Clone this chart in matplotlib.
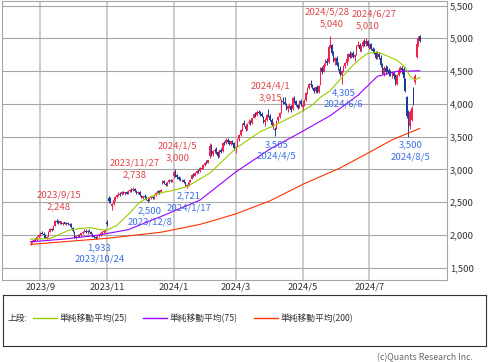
import numpy as np
import pandas as pd
import matplotlib
matplotlib.use("Agg")
import matplotlib.pyplot as plt

plt.rcParams['font.family'] = ['Noto Sans CJK JP', 'DejaVu Sans']

# trading calendar (TSE), weekdays minus market holidays
holidays = ['2023-09-18', '2023-10-09', '2023-11-03', '2023-11-23',
            '2024-01-01', '2024-01-02', '2024-01-03', '2024-01-08',
            '2024-02-12', '2024-02-23', '2024-03-20', '2024-04-29',
            '2024-05-03', '2024-05-06', '2024-07-15', '2024-08-12']
days = pd.bdate_range('2023-08-24', '2024-08-15')
days = days[~days.isin(pd.to_datetime(holidays))]

# daily prices (Aug 2023 .. Aug 2024)
opens = [1870, 1885, 1905, 1925, 1915, 1970,
         2000, 2035, 2020, 2000, 1960, 1980, 2050, 2090, 2075, 2140, 2210, 2195, 2180, 2200, 2170, 2190, 2165, 2185, 2155, 2170,
         2110, 2050, 1960, 1985, 2000, 2000, 2030, 2050, 2065, 2040, 2060, 2050, 2015, 1985, 1965, 1955, 1985, 1995, 2030, 2050, 2065,
         2200, 2560, 2540, 2440, 2470, 2530, 2580, 2610, 2630, 2620, 2655, 2635, 2650, 2630, 2670, 2690, 2680, 2700, 2670, 2645,
         2660, 2600, 2570, 2590, 2575, 2540, 2525, 2560, 2580, 2560, 2610, 2640, 2665, 2650, 2780, 2830, 2780, 2760, 2800, 2840, 2820,
         2900, 2970, 2910, 2880, 2860, 2835, 2845, 2800, 2750, 2760, 2810, 2860, 2920, 2905, 2950, 2980, 2970, 3020, 3010,
         3070, 3100, 3100, 3200, 3350, 3230, 3280, 3300, 3260, 3200, 3290, 3280, 3400, 3400, 3450, 3420, 3390, 3430, 3400,
         3320, 3350, 3460, 3530, 3600, 3700, 3660, 3610, 3700, 3730, 3700, 3790, 3840, 3830, 3880, 3860, 3840, 3800, 3720, 3760,
         3840, 3820, 3750, 3690, 3620, 3620, 3750, 3800, 3870, 4050, 4030, 3990, 3920, 3960, 3960, 3920, 4090, 4040, 3980, 3940, 4040,
         3950, 3980, 4060, 4170, 4240, 4300, 4280, 4240, 4190, 4250, 4180, 4300, 4540, 4490, 4600, 4660, 4640, 4870, 4900, 4770, 4660,
         4700, 4600, 4530, 4440, 4500, 4580, 4620, 4680, 4760, 4720, 4770, 4720, 4760, 4880, 4900, 4830, 4880, 4950, 4920, 4960,
         4890, 4910, 4840, 4800, 4780, 4700, 4760, 4700, 4600, 4460, 4550, 4560, 4520, 4480, 4470, 4470, 4440, 4300, 4440, 4500, 4540, 4530,
         4380, 4100, 3560, 3660, 3760, 4200, 4340, 4720, 4920, 5040]
highs = [1900, 1915, 1930, 1950, 1980, 2010,
         2045, 2060, 2040, 2010, 1990, 2060, 2100, 2110, 2140, 2220, 2248, 2220, 2215, 2210, 2195, 2200, 2190, 2195, 2180, 2175,
         2120, 2060, 1990, 2010, 2020, 2035, 2060, 2085, 2090, 2070, 2090, 2065, 2025, 2000, 1980, 1990, 2010, 2035, 2060, 2075, 2090,
         2230, 2600, 2580, 2480, 2540, 2590, 2625, 2650, 2660, 2670, 2670, 2660, 2665, 2680, 2700, 2710, 2738, 2715, 2690, 2670,
         2670, 2615, 2600, 2620, 2590, 2560, 2570, 2590, 2600, 2620, 2650, 2680, 2680, 2700, 2840, 2840, 2800, 2810, 2850, 2860, 2850,
         2980, 3000, 2930, 2900, 2880, 2860, 2860, 2810, 2770, 2810, 2850, 2930, 2940, 2960, 2990, 3000, 3030, 3050, 3080,
         3110, 3140, 3150, 3400, 3380, 3290, 3330, 3340, 3280, 3300, 3320, 3420, 3440, 3480, 3485, 3450, 3440, 3450, 3420,
         3360, 3470, 3540, 3620, 3700, 3750, 3680, 3700, 3770, 3760, 3790, 3860, 3870, 3900, 3905, 3890, 3880, 3820, 3780, 3850,
         3915, 3850, 3780, 3720, 3640, 3760, 3820, 3880, 4080, 4110, 4100, 4010, 3980, 4020, 3980, 4110, 4120, 4060, 4000, 4060, 4080,
         4000, 4070, 4180, 4260, 4320, 4370, 4300, 4260, 4260, 4280, 4290, 4560, 4580, 4620, 4680, 4700, 4880, 5040, 4920, 4800, 4720,
         4730, 4640, 4570, 4520, 4600, 4640, 4700, 4780, 4800, 4790, 4800, 4760, 4900, 4960, 4930, 4900, 4970, 4990, 5010, 4980,
         4930, 4930, 4870, 4850, 4800, 4800, 4790, 4740, 4620, 4570, 4590, 4580, 4540, 4510, 4500, 4480, 4450, 4460, 4560, 4580, 4570, 4560,
         4400, 4120, 3900, 3900, 3960, 4250, 4460, 4960, 5030, 5050]
lows = [1850, 1870, 1890, 1905, 1910, 1955,
        1990, 2010, 1990, 1950, 1940, 1975, 2040, 2060, 2070, 2135, 2180, 2170, 2165, 2160, 2150, 2160, 2145, 2150, 2130, 2110,
        2050, 1960, 1945, 1970, 1975, 1990, 2015, 2040, 2030, 2020, 2045, 2010, 1975, 1955, 1945, 1933, 1975, 1985, 2020, 2035, 2050,
        2140, 2480, 2480, 2380, 2460, 2520, 2560, 2590, 2600, 2610, 2620, 2610, 2620, 2625, 2650, 2660, 2670, 2660, 2630, 2630,
        2600, 2560, 2550, 2570, 2530, 2500, 2515, 2545, 2550, 2555, 2600, 2630, 2630, 2640, 2770, 2770, 2740, 2750, 2790, 2800, 2800,
        2870, 2890, 2860, 2840, 2820, 2800, 2790, 2740, 2721, 2750, 2800, 2850, 2890, 2900, 2935, 2950, 2960, 3000, 3005,
        3050, 3080, 3090, 3180, 3200, 3200, 3250, 3240, 3180, 3190, 3250, 3270, 3370, 3380, 3400, 3370, 3370, 3380, 3300,
        3245, 3340, 3440, 3510, 3590, 3660, 3590, 3600, 3690, 3680, 3690, 3780, 3800, 3820, 3840, 3820, 3800, 3700, 3660, 3740,
        3800, 3740, 3660, 3620, 3505, 3610, 3720, 3780, 3860, 3990, 3980, 3900, 3880, 3940, 3880, 3910, 4020, 3960, 3920, 3930, 3970,
        3890, 3960, 4050, 4150, 4220, 4260, 4220, 4170, 4170, 4160, 4170, 4290, 4460, 4480, 4570, 4600, 4630, 4850, 4750, 4640, 4600,
        4580, 4510, 4420, 4305, 4480, 4540, 4600, 4660, 4700, 4700, 4700, 4660, 4750, 4860, 4810, 4790, 4860, 4880, 4890, 4870,
        4840, 4820, 4780, 4760, 4680, 4690, 4680, 4560, 4450, 4420, 4460, 4480, 4430, 4420, 4400, 4380, 4280, 4280, 4420, 4470, 4460, 4380,
        4180, 3780, 3500, 3620, 3740, 3980, 4300, 4700, 4880, 4950]
closes = [1880, 1905, 1920, 1915, 1965, 2000,
          2030, 2020, 2005, 1960, 1975, 2050, 2090, 2070, 2130, 2205, 2195, 2180, 2205, 2170, 2185, 2165, 2180, 2160, 2170, 2120,
          2060, 1975, 1980, 2000, 1990, 2025, 2045, 2060, 2040, 2055, 2050, 2020, 1985, 1965, 1960, 1980, 2000, 2030, 2045, 2065, 2080,
          2160, 2510, 2500, 2470, 2530, 2580, 2610, 2630, 2615, 2655, 2635, 2650, 2630, 2670, 2690, 2675, 2700, 2670, 2645, 2660,
          2610, 2570, 2590, 2580, 2545, 2520, 2560, 2580, 2560, 2610, 2640, 2665, 2645, 2690, 2830, 2790, 2760, 2800, 2840, 2820, 2835,
          2960, 2910, 2880, 2860, 2835, 2845, 2800, 2750, 2760, 2800, 2840, 2920, 2905, 2950, 2980, 2965, 3020, 3010, 3070,
          3100, 3095, 3140, 3350, 3230, 3280, 3300, 3260, 3200, 3290, 3270, 3400, 3390, 3450, 3420, 3390, 3430, 3400, 3320,
          3340, 3460, 3530, 3600, 3690, 3680, 3610, 3690, 3720, 3700, 3780, 3840, 3820, 3880, 3860, 3840, 3810, 3720, 3760, 3830,
          3820, 3760, 3680, 3700, 3600, 3740, 3800, 3860, 4050, 4030, 4000, 3920, 3960, 3980, 3900, 4090, 4040, 3980, 3940, 4040, 3990,
          3980, 4050, 4170, 4240, 4300, 4280, 4240, 4190, 4250, 4180, 4270, 4540, 4490, 4600, 4660, 4620, 4860, 4900, 4770, 4660, 4700,
          4600, 4530, 4450, 4500, 4580, 4620, 4680, 4760, 4720, 4770, 4720, 4740, 4880, 4900, 4830, 4880, 4950, 4900, 4960, 4890,
          4910, 4840, 4800, 4780, 4700, 4780, 4720, 4600, 4480, 4550, 4480, 4500, 4450, 4440, 4480, 4420, 4300, 4440, 4520, 4550, 4520, 4400,
          4200, 3820, 3540, 3870, 3940, 4020, 4420, 4920, 5000, 4960]

# moving averages
ma25_dates = ['2023-08-24', '2023-09-11', '2023-09-28', '2023-10-11', '2023-10-18', '2023-10-26',
              '2023-11-01', '2023-11-10', '2023-11-22', '2023-12-01', '2023-12-11', '2023-12-20',
              '2023-12-28', '2024-01-17', '2024-02-06', '2024-03-01', '2024-03-25', '2024-04-04',
              '2024-04-26', '2024-05-13', '2024-05-20', '2024-05-28', '2024-06-06', '2024-06-17',
              '2024-06-24', '2024-06-28', '2024-07-08', '2024-07-17', '2024-07-25', '2024-08-01',
              '2024-08-06', '2024-08-09', '2024-08-15']
ma25_vals = [1935, 1945, 2075, 2100, 2110, 2080, 2075, 2145, 2335, 2500, 2575, 2645,
             2670, 2735, 2940, 3320, 3575, 3660, 3860, 3980, 4100, 4200, 4400, 4590,
             4700, 4770, 4790, 4730, 4665, 4560, 4420, 4365, 4405]
ma75_dates = ['2023-08-24', '2023-09-22', '2023-10-24', '2023-11-21', '2023-12-20', '2024-01-29',
              '2024-03-01', '2024-04-02', '2024-05-01', '2024-05-28', '2024-06-20', '2024-07-08',
              '2024-07-25', '2024-08-06', '2024-08-15']
ma75_vals = [1895, 1935, 1995, 2080, 2280, 2530, 2960, 3310, 3580, 3820, 4130, 4420, 4495, 4500, 4505]
ma200_dates = ['2023-08-24', '2023-09-22', '2023-11-01', '2023-12-20', '2024-01-29', '2024-03-01',
               '2024-04-02', '2024-05-01', '2024-06-05', '2024-07-01', '2024-07-22', '2024-08-15']
ma200_vals = [1855, 1895, 1948, 2040, 2160, 2320, 2520, 2770, 3020, 3260, 3450, 3625]

# marked highs / lows
peak_dates = ['2023-09-15', '2023-11-27', '2024-01-05', '2024-04-01', '2024-05-28', '2024-06-27']
peak_vals = [2248, 2738, 3000, 3915, 5040, 5010]
trough_dates = ['2023-10-24', '2023-12-08', '2024-01-17', '2024-04-05', '2024-06-06', '2024-08-05']
trough_vals = [1933, 2500, 2721, 3505, 4305, 3500]

month_ticks = ['2023-09-01', '2023-11-01', '2024-01-04', '2024-03-01', '2024-05-01', '2024-07-01']
month_labels = ['2023/9', '2023/11', '2024/1', '2024/3', '2024/5', '2024/7']
y_ticks = [1500, 2000, 2500, 3000, 3500, 4000, 4500, 5000, 5500]


def pos(d):
    return days.get_loc(pd.Timestamp(d))


def jp_date(d):
    t = pd.Timestamp(d)
    return f"{t.year}/{t.month}/{t.day}"


UP = '#f2204c'
DOWN = '#1d3c96'
C25, C75, C200 = '#99cc00', '#9900ff', '#ff3300'
RED_TXT, BLUE_TXT = '#e0474c', '#3f6fe6'

fig = plt.figure(figsize=(4.89, 3.62), dpi=100)
ax = fig.add_axes([2 / 489, 1 - 280 / 362, 445 / 489, 279 / 362])

x = np.arange(len(days))
o = np.array(opens)
h = np.array(highs)
l = np.array(lows)
c = np.array(closes)
cols = np.where(c >= o, UP, DOWN)

ax.vlines(x, l, h, colors=cols, lw=0.7, zorder=3)
ax.bar(x, np.maximum(np.abs(c - o), 10), bottom=np.minimum(o, c), width=0.9,
       color=cols, linewidth=0, zorder=3)

ax.plot([pos(d) for d in ma200_dates], ma200_vals, color=C200, lw=0.8, zorder=4)
ax.plot([pos(d) for d in ma75_dates], ma75_vals, color=C75, lw=0.8, zorder=4)
ax.plot([pos(d) for d in ma25_dates], ma25_vals, color=C25, lw=0.8, zorder=4)

# high / low labels: date over price for highs, price over date for lows
# the two labels at the top sit close together, so nudge their dates apart
date_dx = {'2024-05-28': -3, '2024-06-27': 8}
lab = dict(textcoords='offset pixels', ha='center', va='center', fontsize=6.9, zorder=5)
for d, v in zip(peak_dates, peak_vals):
    ax.annotate(f"{v:,}", (pos(d), v), xytext=(2, 11.5), color=RED_TXT, **lab)
    ax.annotate(jp_date(d), (pos(d), v), xytext=(date_dx.get(d, 2), 23.5), color=RED_TXT, **lab)
for d, v in zip(trough_dates, trough_vals):
    ax.annotate(f"{v:,}", (pos(d), v), xytext=(2, -8.5), color=BLUE_TXT, **lab)
    ax.annotate(jp_date(d), (pos(d), v), xytext=(2, -20), color=BLUE_TXT, **lab)

ax.set_xlim(-17.5, 255.7)
ax.set_ylim(1312, 5569)
ax.set_yticks(y_ticks)
ax.set_yticklabels([f"{v:,}" for v in y_ticks])
ax.yaxis.tick_right()
ax.set_xticks([pos(d) for d in month_ticks])
ax.set_xticklabels(month_labels)
ax.tick_params(axis='both', length=0, labelsize=6.8, colors='#333333')
ax.tick_params(axis='y', pad=2)
ax.tick_params(axis='x', pad=2)
ax.grid(axis='y', color='#a6a6a6', lw=0.8)
ax.grid(axis='x', color='#cccccc', lw=1.4)
ax.set_axisbelow(True)
for s in ax.spines.values():
    s.set_color('#a6a6a6')
    s.set_linewidth(0.8)

# legend panel
lg = fig.add_axes([3 / 489, 1 - 346 / 362, 483 / 489, 51 / 362])
lg.set_xlim(0, 483)
lg.set_ylim(51, 0)
lg.set_xticks([])
lg.set_yticks([])
for s in lg.spines.values():
    s.set_color('#333333')
    s.set_linewidth(0.8)
lg.text(5, 23, "上段:", fontsize=6.3, va='center', color='#333333')
for x0, col, name in [(30, C25, "単純移動平均(25)"), (140, C75, "単純移動平均(75)"),
                      (251, C200, "単純移動平均(200)")]:
    lg.plot([x0, x0 + 24], [23, 23], color=col, lw=1)
    lg.text(x0 + 27, 23, name, fontsize=6.3, va='center', color='#333333')

fig.text(473 / 489, 1 - 358 / 362, "(c)Quants Research Inc.", ha='right', va='center',
         fontsize=6.3, color='#666666')

fig.savefig('out.png', dpi=100)
